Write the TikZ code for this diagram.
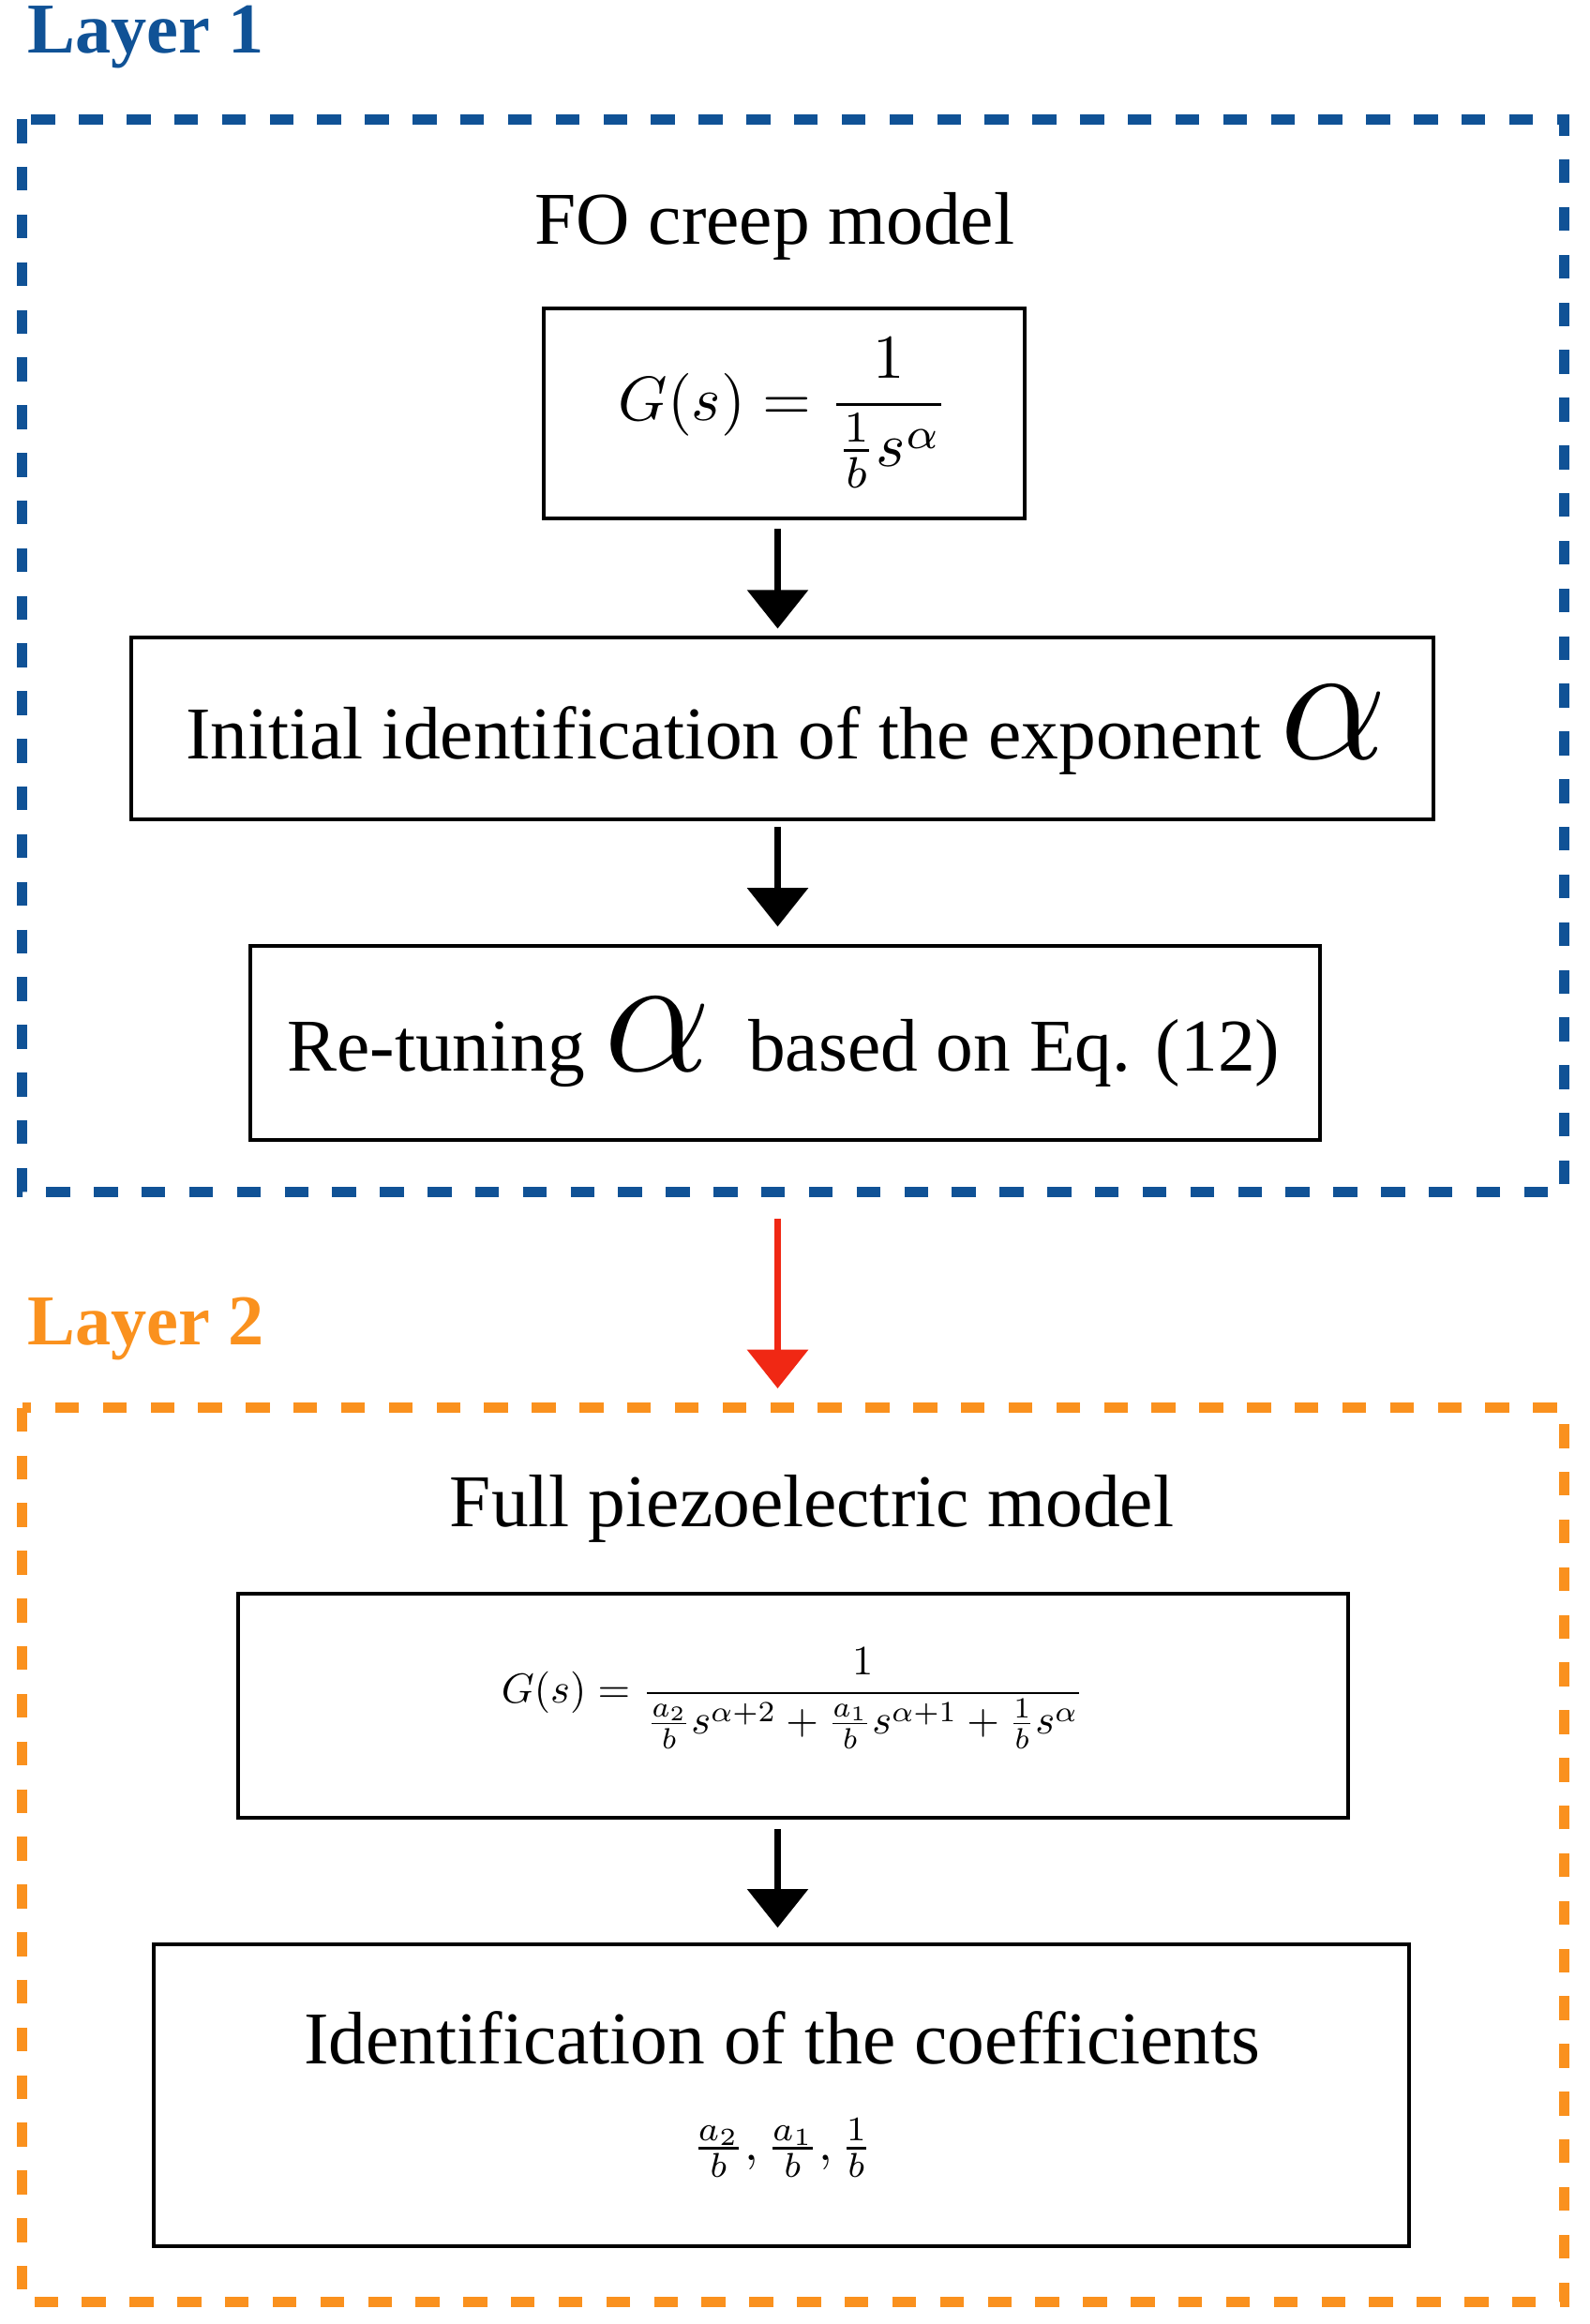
\documentclass[tikz,border=0pt]{standalone}
\usepackage{amsmath}
\usepackage{graphicx}
\usepackage{fontspec}
\setmainfont{Liberation Serif}
\usetikzlibrary{arrows.meta}
\definecolor{lblue}{RGB}{16,82,150}
\definecolor{lorange}{RGB}{250,145,30}
\definecolor{lred}{RGB}{240,40,20}
\newcommand{\bigal}{\scalebox{4.6}{$\alpha$}}
\begin{document}
\begin{tikzpicture}[x=1pt,y=-1pt,
  box/.style={draw,line width=2.5pt,inner sep=0pt},
  txt/.style={font=\fontsize{50}{58}\selectfont},
  arr/.style={line width=5pt,-{Triangle[length=26pt,width=40pt]}},
  frame/.style={line width=7pt,dash pattern=on 16pt off 16pt}]
\useasboundingbox (0,0) rectangle (1067,1560);
\node[anchor=west,font=\fontsize{48}{54}\selectfont\bfseries,text=lblue] (l1) at (15,25) {Layer 1};
\draw[frame,lblue] (15,80) rectangle (1050,800);
\node[txt] (t1) at (520,152) {FO creep model};
\draw[box] (365,207) rectangle (688,348);
\node[scale=4.2] (b1) at (526,277) {$G(s)=\dfrac{1}{\frac{1}{b}s^{\alpha}}$};
\draw[box] (88,428) rectangle (962,550);
\node[txt] (b2) at (528,490) {Initial identification of the exponent \bigal};
\draw[box] (168,635) rectangle (886,765);
\node[txt] (b3) at (526,700) {Re-tuning \bigal\ \ based on Eq. (12)};
\coordinate (a1s) at (522,355); \coordinate (a1e) at (522,422);
\coordinate (a2s) at (522,555); \coordinate (a2e) at (522,622);
\draw[arr] (a1s) -- (a1e);
\draw[arr] (a2s) -- (a2e);
\coordinate (r1) at (522,818); \coordinate (r2) at (522,932);
\draw[arr,lred] (r1) -- (r2);
\node[anchor=west,font=\fontsize{48}{54}\selectfont\bfseries,text=lorange] (l2) at (15,892) {Layer 2};
\draw[frame,lorange] (15,945) rectangle (1050,1545);
\node[txt] (t2) at (545,1013) {Full piezoelectric model};
\draw[box] (160,1070) rectangle (905,1220);
\node[scale=2.8] (b4) at (532,1140) {$G(s)=\dfrac{1}{\frac{a_2}{b}s^{\alpha+2}+\frac{a_1}{b}s^{\alpha+1}+\frac{1}{b}s^{\alpha}}$};
\coordinate (a3s) at (522,1228); \coordinate (a3e) at (522,1294);
\draw[arr] (a3s) -- (a3e);
\draw[box] (103,1305) rectangle (946,1508);
\node[txt] (b5) at (525,1368) {Identification of the coefficients};
\node[scale=3.3] (b5b) at (525,1442) {$\frac{a_2}{b},\frac{a_1}{b},\frac{1}{b}$};
\end{tikzpicture}
\end{document}
